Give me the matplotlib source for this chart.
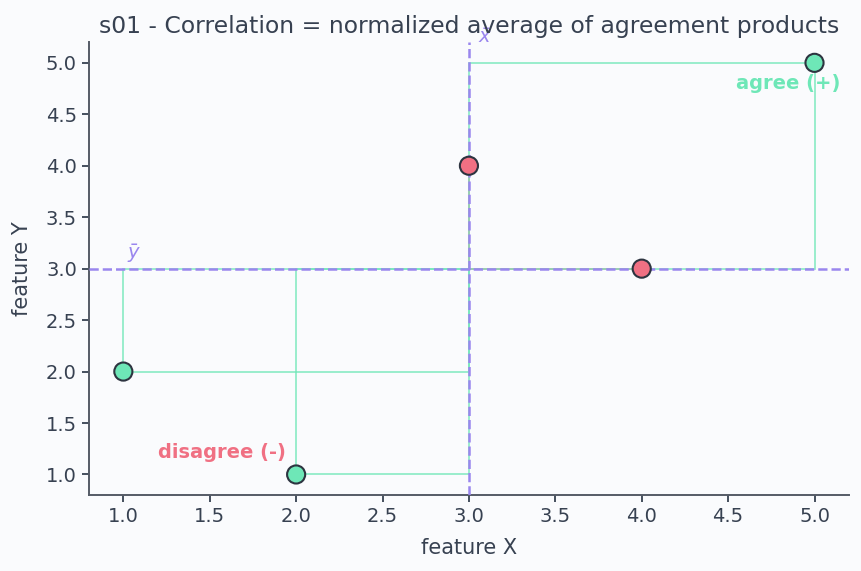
import numpy as np
import matplotlib.pyplot as plt

x = np.array([1, 2, 3, 4, 5])
y = np.array([2, 1, 4, 3, 5])

GREEN = "#6ee7b7"
RED = "#f07083"
PURPLE = "#9a86ee"
TEXT = "#374151"
BG = "#fafbfd"

x_mean = x.mean()
y_mean = y.mean()
prod = (x - x_mean) * (y - y_mean)

plt.rcParams["font.family"] = ["DejaVu Sans"]
fig, ax = plt.subplots(figsize=(8.62, 5.71), dpi=100)
fig.patch.set_facecolor(BG)
ax.set_facecolor(BG)

# rectangles from each point to the means
for xi, yi, p in zip(x, y, prod):
    c = GREEN if p > 0 else RED
    rect = plt.Rectangle((min(xi, x_mean), min(yi, y_mean)), abs(xi - x_mean), abs(yi - y_mean),
                         fill=False, ec=c, lw=1.3, alpha=0.75, zorder=2)
    ax.add_patch(rect)

ax.axvline(x_mean, color=PURPLE, ls="--", lw=1.8, zorder=3)
ax.axhline(y_mean, color=PURPLE, ls="--", lw=1.8, zorder=3)

colors = [GREEN if p > 0 else RED for p in prod]
ax.scatter(x, y, s=170, c=colors, edgecolors="#2d3440", linewidths=1.5, zorder=4)

ax.text(x_mean + 0.05, 5.25, r"$\bar{x}$", color=PURPLE, fontsize=14, ha="left", va="center")
ax.text(1.06, 3.15, r"$\bar{y}$", color=PURPLE, fontsize=14, ha="center", va="center")
ax.text(4.85, 4.8, "agree (+)", color=GREEN, fontsize=14, fontweight="bold", ha="center", va="center")
ax.text(1.57, 1.21, "disagree (-)", color=RED, fontsize=14, fontweight="bold", ha="center", va="center")

ax.set_xlim(0.8, 5.2)
ax.set_ylim(0.8, 5.2)
ax.set_xticks(np.arange(1.0, 5.01, 0.5))
ax.set_yticks(np.arange(1.0, 5.01, 0.5))
ax.xaxis.set_major_formatter(plt.FormatStrFormatter("%.1f"))
ax.yaxis.set_major_formatter(plt.FormatStrFormatter("%.1f"))

ax.set_title("s01 - Correlation = normalized average of agreement products", color=TEXT, fontsize=16.9, pad=7)
ax.set_xlabel("feature X", color=TEXT, fontsize=15, labelpad=9)
ax.set_ylabel("feature Y", color=TEXT, fontsize=15, labelpad=10)
ax.tick_params(colors=TEXT, labelsize=14, width=1.3, length=5)
for s in ["top", "right"]:
    ax.spines[s].set_visible(False)
for s in ["left", "bottom"]:
    ax.spines[s].set_color("#555b66")
    ax.spines[s].set_linewidth(1.4)

fig.subplots_adjust(left=0.103, right=0.985, bottom=0.133, top=0.926)
fig.savefig("out.png", dpi=100, facecolor=BG)
